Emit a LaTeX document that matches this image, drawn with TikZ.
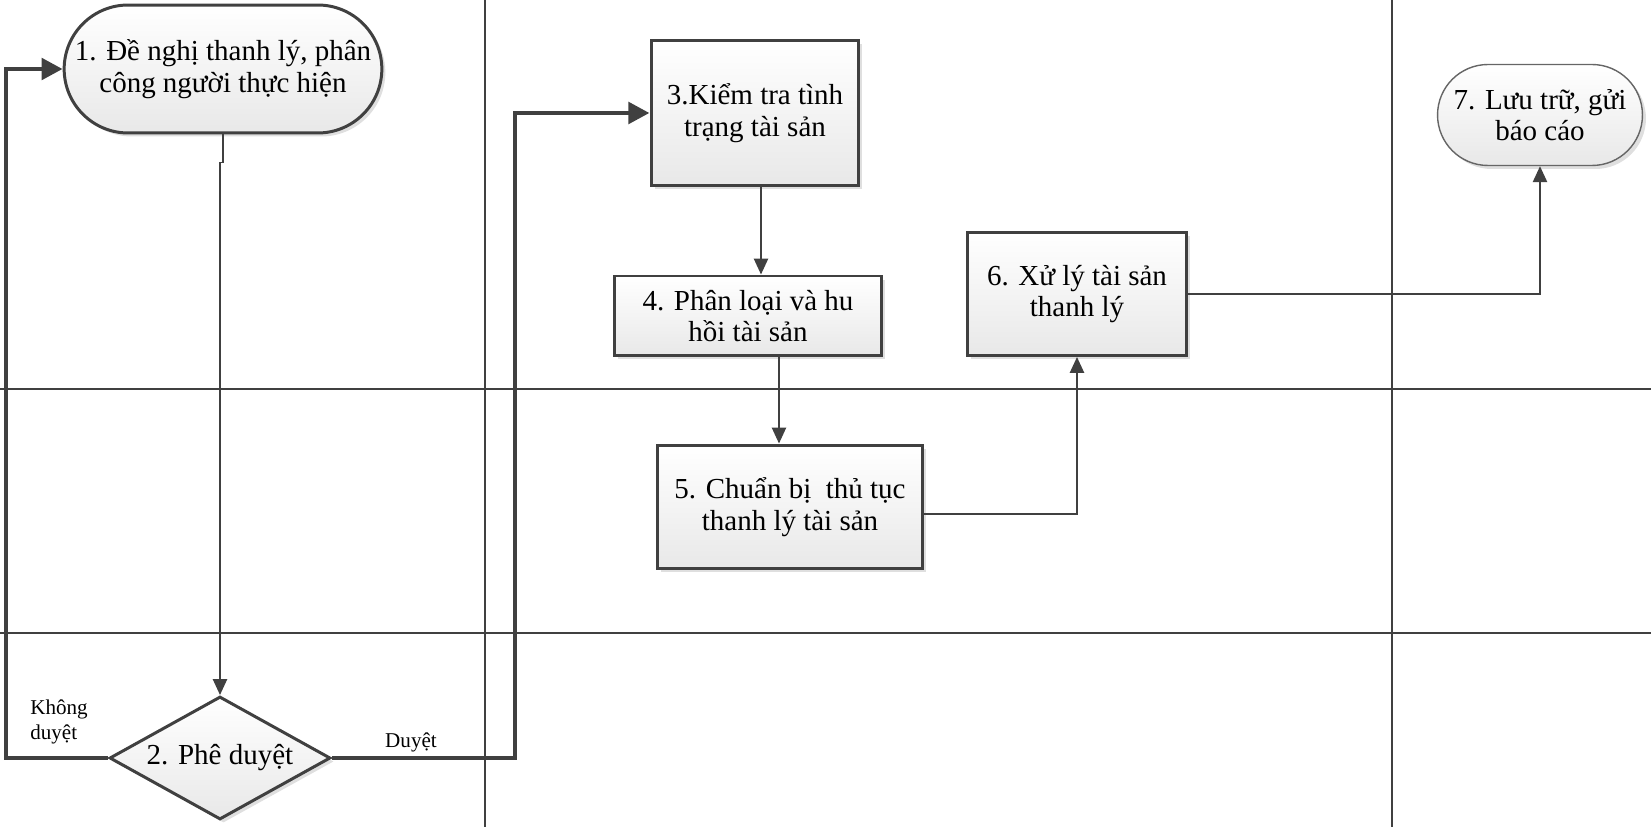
\documentclass[tikz,border=0pt]{standalone}
\usepackage{fontspec}
\setmainfont{Liberation Serif}
\usetikzlibrary{arrows.meta, shapes.geometric, shapes.misc, shadows}
\definecolor{edge}{HTML}{404040}

\begin{document}
\begin{tikzpicture}[
    x=0.02cm, y=-0.02cm,
    font=\fontsize{16.5}{18}\selectfont,
    block/.style = {
        rectangle,
        draw=edge,
        line width=1.7pt,
        top color=white,
        bottom color=black!9,
        drop shadow={shadow xshift=0.07cm, shadow yshift=-0.07cm, opacity=0.25, fill=black!50},
        align=center,
        inner sep=2pt
    },
    terminal/.style = {block, rounded rectangle},
    decision/.style = {block, diamond, aspect=1.8, inner sep=0pt},
    flow/.style = {draw=edge, line width=1.1pt, -{Triangle[length=9pt, width=8pt]}},
    mainflow/.style = {draw=edge, line width=2.8pt, -{Triangle[length=12pt, width=12pt]}},
    lane/.style = {draw=edge, line width=0.9pt},
    note/.style = {font=\fontsize{12}{14}\selectfont, align=left}
]
\useasboundingbox (0,0) rectangle (1651,827);

% Swimlane grid
\draw[lane] (485,0) -- (485,827);
\draw[lane] (1392,0) -- (1392,827);
\draw[lane] (0,389) -- (1651,389);
\draw[lane] (0,633) -- (1651,633);

% Nodes with explicit coordinates
\node[terminal, minimum width=6.32cm, minimum height=2.56cm] (denghi) at (223,69) {1. Đề nghị thanh lý, phân\\công người thực hiện};
\node[decision, minimum width=4.42cm, minimum height=2.46cm] (pheduyet) at (220,758) {2. Phê duyệt};
\node[block, minimum width=4.16cm, minimum height=2.92cm] (kiemtra) at (755,113) {3.Kiểm tra tình\\trạng tài sản};
\node[block, minimum width=5.36cm, minimum height=1.6cm] (phanloai) at (748,316) {4. Phân loại và hu\\hồi tài sản};
\node[block, minimum width=5.3cm, minimum height=2.48cm] (chuanbi) at (790,507) {5. Chuẩn bị~ thủ tục\\thanh lý tài sản};
\node[block, minimum width=4.4cm, minimum height=2.46cm] (xuly) at (1077,294) {6. Xử lý tài sản\\thanh lý};
\node[terminal, line width=0.8pt, draw=black!60, minimum width=4.24cm, minimum height=2.02cm] (luutru) at (1540,115) {7. Lưu trữ, gửi\\báo cáo};

% Branch labels
\node[note] (khongduyet) at (59,722) {Không\\duyệt};
\node[note] (duyet) at (411,742) {Duyệt};

% Arrows (main pipeline)
\draw[flow] (denghi.south) -- ++(0,28) -| (pheduyet.north);
\draw[mainflow] (pheduyet.west) -- ++(-102,0) |- (denghi.west);
\draw[mainflow] (pheduyet.east) -- ++(183,0) |- (kiemtra.west);
\draw[flow] ([xshift=0.12cm]kiemtra.south) -- ([xshift=0.12cm]kiemtra.south |- phanloai.north);
\draw[flow] ([xshift=0.62cm]phanloai.south) -- ([xshift=0.62cm]phanloai.south |- chuanbi.north);
\draw[flow] ([yshift=-0.14cm]chuanbi.east) -| (xuly.south);
\draw[flow] (xuly.east) -| (luutru.south);

\end{tikzpicture}
\end{document}
